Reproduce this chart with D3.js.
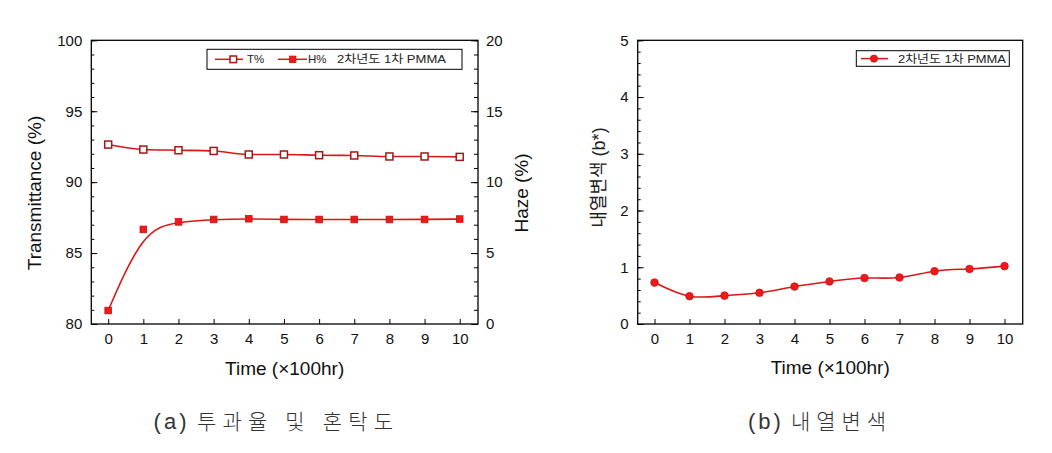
<!DOCTYPE html>
<html><head><meta charset="utf-8">
<script src="https://cdn.jsdelivr.net/npm/d3@7/dist/d3.min.js"></script>
<style>
body{margin:0;background:#fff;}
svg text{font-family:"Liberation Sans",Arial,"Noto Sans CJK KR",sans-serif;}
</style></head>
<body>
<svg id="c" width="1052" height="453"></svg>
<script>
const time = [0,1,2,3,4,5,6,7,8,9,10];
const transmittance = [92.65,92.3,92.25,92.2,91.95,91.95,91.9,91.88,91.81,91.81,91.78];
const haze = [0.95,6.67,7.2,7.37,7.42,7.37,7.37,7.37,7.37,7.37,7.4];
const bstar = [0.73,0.49,0.50,0.55,0.66,0.75,0.81,0.82,0.93,0.97,1.02];
const xTicks = [0,1,2,3,4,5,6,7,8,9,10];
const tTicks = [80,85,90,95,100];
const hTicks = [0,5,10,15,20];
const bTicks = [0,1,2,3,4,5];
const legendA = ["T%","H%","2차년도 1차 PMMA"];
const legendB = ["2차년도 1차 PMMA"];
const captionTags = ["(a)","(b)"];
const captionTexts = ["투과율 및 혼탁도","내열변색"];

const svg = d3.select("#c");
const LINE = "#d81818", DARK = "#a01818", FILL = "#ee1a1a";

function frame(g, x0, x1, y0, y1){
  g.append("rect").attr("x",x0).attr("y",y0).attr("width",x1-x0).attr("height",y1-y0)
   .attr("fill","none").attr("stroke","#000").attr("stroke-width",1.3);
}
function styleAxis(sel, fs){
  sel.select(".domain").remove();
  sel.selectAll("line").attr("stroke","#000").attr("stroke-width",1);
  sel.selectAll("text").attr("font-size",fs).attr("fill","#111")
     .attr("font-family","'Liberation Sans',Arial,sans-serif");
}
function range(a,b,s){const r=[];for(let v=a;v<=b+1e-9;v+=s)r.push(+v.toFixed(3));return r;}

// ---------- Chart (a) ----------
const A = {x0:91.3, x1:478, y0:40.3, y1:324};
const xa = d3.scaleLinear().domain([-0.48,10.52]).range([A.x0,A.x1]);
const ya = d3.scaleLinear().domain([80,100]).range([A.y1,A.y0]);
const yh = d3.scaleLinear().domain([0,20]).range([A.y1,A.y0]);
const ga = svg.append("g");

ga.append("g").attr("transform",`translate(${A.x0},0)`)
  .call(d3.axisLeft(ya).tickValues(range(80,100,1)).tickSize(-3).tickFormat(""))
  .call(s=>styleAxis(s,15));
ga.append("g").attr("transform",`translate(${A.x0},0)`)
  .call(d3.axisLeft(ya).tickValues(tTicks).tickSize(-6).tickPadding(9).tickFormat(d3.format("d")))
  .call(s=>styleAxis(s,15));
ga.append("g").attr("transform",`translate(${A.x1},0)`)
  .call(d3.axisRight(yh).tickValues(range(0,20,1)).tickSize(-4).tickFormat(""))
  .call(s=>styleAxis(s,15));
ga.append("g").attr("transform",`translate(${A.x1},0)`)
  .call(d3.axisRight(yh).tickValues(hTicks).tickSize(-7).tickPadding(8).tickFormat(d3.format("d")))
  .call(s=>styleAxis(s,15));
ga.append("g").attr("transform",`translate(0,${A.y1})`)
  .call(d3.axisBottom(xa).tickValues(xTicks).tickSize(-5).tickPadding(9).tickFormat(d3.format("d")))
  .call(s=>styleAxis(s,15));
frame(ga,A.x0,A.x1,A.y0,A.y1);

const lineT = d3.line().x((d,i)=>xa(time[i])).y(d=>ya(d)).curve(d3.curveMonotoneX);
const lineH = d3.line().x((d,i)=>xa(time[i])).y(d=>yh(d)).curve(d3.curveBasis);
ga.append("path").attr("d",lineT(transmittance)).attr("fill","none").attr("stroke",LINE).attr("stroke-width",1.6);
ga.append("path").attr("d",lineH(haze)).attr("fill","none").attr("stroke",LINE).attr("stroke-width",1.6);
ga.selectAll(".tm").data(transmittance).join("rect")
  .attr("x",(d,i)=>xa(time[i])-3.5).attr("y",d=>ya(d)-3.5).attr("width",7).attr("height",7)
  .attr("fill","#fff").attr("stroke",DARK).attr("stroke-width",1.5);
ga.selectAll(".hm").data(haze).join("rect")
  .attr("x",(d,i)=>xa(time[i])-3.3).attr("y",d=>yh(d)-3.3).attr("width",6.6).attr("height",6.6)
  .attr("fill",FILL).attr("stroke","#c81010").attr("stroke-width",0.8);

ga.append("text").attr("transform","translate(34.7,193) rotate(-90)")
  .attr("text-anchor","middle").attr("dominant-baseline","central").attr("font-size",19).attr("fill","#111")
  .text("Transmittance (%)");
ga.append("text").attr("transform","translate(521,193) rotate(-90)")
  .attr("text-anchor","middle").attr("dominant-baseline","central").attr("font-size",19).attr("fill","#111")
  .text("Haze (%)");
ga.append("text").attr("x",(A.x0+A.x1)/2).attr("y",368)
  .attr("text-anchor","middle").attr("dominant-baseline","central").attr("font-size",19).attr("fill","#111")
  .text("Time (×100hr)");

// legend (a)
const lgA = ga.append("g");
lgA.append("rect").attr("x",207).attr("y",49.3).attr("width",255).attr("height",20)
  .attr("fill","#fff").attr("stroke","#000").attr("stroke-width",1);
const ly = 59.3;
lgA.append("line").attr("x1",215).attr("x2",243).attr("y1",ly).attr("y2",ly).attr("stroke",LINE).attr("stroke-width",1.5);
lgA.append("rect").attr("x",230).attr("y",ly-3.3).attr("width",6.6).attr("height",6.6).attr("fill","#fff").attr("stroke",DARK).attr("stroke-width",1.5);
lgA.append("text").attr("x",247).attr("y",ly).attr("dominant-baseline","central").attr("font-size",11.5).attr("fill","#222").text(legendA[0]);
lgA.append("line").attr("x1",278).attr("x2",307).attr("y1",ly).attr("y2",ly).attr("stroke",LINE).attr("stroke-width",1.5);
lgA.append("rect").attr("x",289.5).attr("y",ly-3.2).attr("width",6.4).attr("height",6.4).attr("fill",FILL).attr("stroke","#c81010").attr("stroke-width",0.8);
lgA.append("text").attr("x",308).attr("y",ly).attr("dominant-baseline","central").attr("font-size",11.5).attr("fill","#222").text(legendA[1]);
lgA.append("text").attr("x",337).attr("y",ly).attr("dominant-baseline","central").attr("font-size",11.5).attr("fill","#222")
  .attr("textLength",109).attr("lengthAdjust","spacingAndGlyphs").text(legendA[2]);

// ---------- Chart (b) ----------
const B = {x0:637.7, x1:1022.7, y0:40.3, y1:324};
const xb = d3.scaleLinear().domain([-0.48,10.52]).range([B.x0,B.x1]);
const yb = d3.scaleLinear().domain([0,5]).range([B.y1,B.y0]);
const gb = svg.append("g");
gb.append("g").attr("transform",`translate(${B.x0},0)`)
  .call(d3.axisLeft(yb).tickValues(range(0,5,0.2)).tickSize(-3).tickFormat(""))
  .call(s=>styleAxis(s,15));
gb.append("g").attr("transform",`translate(${B.x0},0)`)
  .call(d3.axisLeft(yb).tickValues(bTicks).tickSize(-6).tickPadding(9).tickFormat(d3.format("d")))
  .call(s=>styleAxis(s,15));
gb.append("g").attr("transform",`translate(0,${B.y1})`)
  .call(d3.axisBottom(xb).tickValues(xTicks).tickSize(-5).tickPadding(9).tickFormat(d3.format("d")))
  .call(s=>styleAxis(s,15));
frame(gb,B.x0,B.x1,B.y0,B.y1);

const lineB = d3.line().x((d,i)=>xb(time[i])).y(d=>yb(d)).curve(d3.curveNatural);
gb.append("path").attr("d",lineB(bstar)).attr("fill","none").attr("stroke",LINE).attr("stroke-width",1.6);
gb.selectAll(".bm").data(bstar).join("circle")
  .attr("cx",(d,i)=>xb(time[i])).attr("cy",d=>yb(d)).attr("r",3.8)
  .attr("fill",FILL).attr("stroke","#d01010").attr("stroke-width",0.8);

gb.append("text").attr("transform","translate(599,177.5) rotate(-90)")
  .attr("text-anchor","middle").attr("dominant-baseline","central").attr("font-size",18).attr("fill","#222")
  .text("내열변색 (b*)");
gb.append("text").attr("x",(B.x0+B.x1)/2).attr("y",367)
  .attr("text-anchor","middle").attr("dominant-baseline","central").attr("font-size",19).attr("fill","#111")
  .text("Time (×100hr)");

const lgB = gb.append("g");
lgB.append("rect").attr("x",856.3).attr("y",50.7).attr("width",153).attr("height",15.6)
  .attr("fill","#fff").attr("stroke","#000").attr("stroke-width",1);
const lyb = 58.6;
lgB.append("line").attr("x1",861).attr("x2",888).attr("y1",lyb).attr("y2",lyb).attr("stroke",LINE).attr("stroke-width",1.5);
lgB.append("circle").attr("cx",874).attr("cy",lyb).attr("r",3.6).attr("fill",FILL).attr("stroke","#d01010").attr("stroke-width",0.8);
lgB.append("text").attr("x",898).attr("y",lyb).attr("dominant-baseline","central").attr("font-size",11.5).attr("fill","#222")
  .attr("textLength",108).attr("lengthAdjust","spacingAndGlyphs").text(legendB[0]);

// captions
const capFont = "'Liberation Serif','DejaVu Serif',serif";
svg.append("text").attr("x",153.6).attr("y",421).attr("dominant-baseline","central")
  .attr("font-size",22).attr("fill","#333").attr("font-family",capFont)
  .attr("letter-spacing",3).text(captionTags[0]);
svg.append("text").attr("x",197).attr("y",421).attr("dominant-baseline","central")
  .attr("font-size",21).attr("fill","#333").attr("font-weight",300).attr("font-family","'Noto Sans CJK KR',sans-serif")
  .attr("textLength",196).attr("lengthAdjust","spacing").text(captionTexts[0]);
svg.append("text").attr("x",748).attr("y",421).attr("dominant-baseline","central")
  .attr("font-size",22).attr("fill","#333").attr("font-family",capFont)
  .attr("letter-spacing",3).text(captionTags[1]);
svg.append("text").attr("x",791).attr("y",421).attr("dominant-baseline","central")
  .attr("font-size",21).attr("fill","#333").attr("font-weight",300).attr("font-family","'Noto Sans CJK KR',sans-serif")
  .attr("textLength",95).attr("lengthAdjust","spacing").text(captionTexts[1]);
</script>
</body></html>
